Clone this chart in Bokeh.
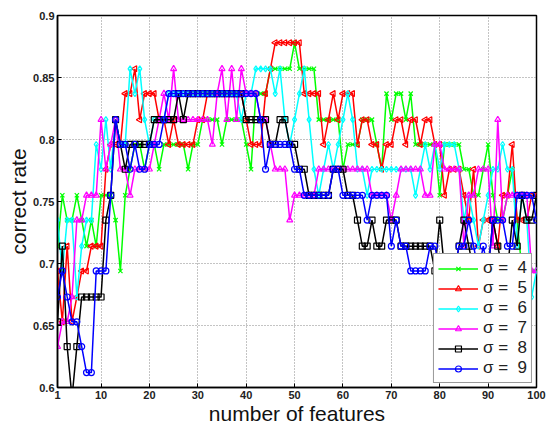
from bokeh.plotting import figure
from bokeh.models import FixedTicker, Legend, LegendItem
from bokeh.embed import file_html
from bokeh.resources import INLINE

features = list(range(1, 101))

sigma4 = [0.714, 0.755, 0.735, 0.735, 0.755, 0.735, 0.714, 0.735, 0.714, 0.755,
          0.755, 0.755, 0.735, 0.694, 0.755, 0.776, 0.796, 0.796, 0.776, 0.796,
          0.796, 0.776, 0.796, 0.796, 0.796, 0.796, 0.796, 0.776, 0.796, 0.796,
          0.816, 0.816, 0.816, 0.816, 0.796, 0.816, 0.816, 0.816, 0.816, 0.796,
          0.776, 0.837, 0.837, 0.837, 0.857, 0.857, 0.857, 0.857, 0.857, 0.878,
          0.857, 0.857, 0.857, 0.857, 0.816, 0.816, 0.816, 0.816, 0.816, 0.776,
          0.796, 0.796, 0.796, 0.816, 0.816, 0.816, 0.796, 0.776, 0.837, 0.816,
          0.837, 0.837, 0.816, 0.837, 0.796, 0.796, 0.796, 0.796, 0.796, 0.755,
          0.796, 0.796, 0.796, 0.796, 0.776, 0.776, 0.755, 0.755, 0.776, 0.796,
          0.755, 0.735, 0.735, 0.755, 0.776, 0.735, 0.694, 0.694, 0.694, 0.694]

sigma5 = [0.694, 0.653, 0.714, 0.653, 0.673, 0.694, 0.694, 0.714, 0.714, 0.714,
          0.776, 0.796, 0.796, 0.796, 0.837, 0.837, 0.857, 0.816, 0.837, 0.837,
          0.837, 0.816, 0.816, 0.796, 0.816, 0.796, 0.796, 0.796, 0.796, 0.816,
          0.816, 0.837, 0.837, 0.837, 0.837, 0.837, 0.837, 0.837, 0.837, 0.816,
          0.796, 0.796, 0.796, 0.837, 0.857, 0.878, 0.878, 0.878, 0.878, 0.878,
          0.878, 0.837, 0.837, 0.837, 0.837, 0.796, 0.816, 0.837, 0.816, 0.837,
          0.837, 0.837, 0.796, 0.816, 0.816, 0.796, 0.796, 0.776, 0.796, 0.796,
          0.816, 0.816, 0.796, 0.816, 0.816, 0.796, 0.816, 0.816, 0.796, 0.796,
          0.755, 0.776, 0.776, 0.776, 0.755, 0.735, 0.776, 0.714, 0.735, 0.735,
          0.735, 0.714, 0.755, 0.755, 0.796, 0.735, 0.735, 0.735, 0.755, 0.755]

sigma6 = [0.735, 0.694, 0.735, 0.735, 0.673, 0.714, 0.735, 0.735, 0.796, 0.776,
          0.816, 0.776, 0.816, 0.796, 0.796, 0.857, 0.837, 0.857, 0.816, 0.796,
          0.816, 0.816, 0.816, 0.837, 0.837, 0.837, 0.837, 0.837, 0.837, 0.837,
          0.837, 0.837, 0.837, 0.837, 0.837, 0.837, 0.837, 0.837, 0.816, 0.837,
          0.837, 0.857, 0.857, 0.857, 0.857, 0.837, 0.857, 0.816, 0.796, 0.816,
          0.837, 0.857, 0.816, 0.776, 0.755, 0.776, 0.796, 0.776, 0.796, 0.816,
          0.837, 0.816, 0.776, 0.776, 0.755, 0.776, 0.776, 0.776, 0.776, 0.776,
          0.776, 0.776, 0.776, 0.776, 0.755, 0.776, 0.796, 0.776, 0.796, 0.776,
          0.796, 0.796, 0.796, 0.776, 0.735, 0.755, 0.735, 0.714, 0.735, 0.755,
          0.776, 0.776, 0.796, 0.776, 0.776, 0.714, 0.755, 0.735, 0.673, 0.694]

sigma7 = [0.633, 0.653, 0.653, 0.673, 0.735, 0.735, 0.755, 0.755, 0.755, 0.816,
          0.776, 0.796, 0.816, 0.776, 0.776, 0.755, 0.776, 0.776, 0.776, 0.776,
          0.796, 0.816, 0.837, 0.816, 0.857, 0.816, 0.816, 0.816, 0.816, 0.816,
          0.816, 0.816, 0.796, 0.837, 0.857, 0.816, 0.857, 0.816, 0.857, 0.837,
          0.837, 0.837, 0.816, 0.816, 0.796, 0.776, 0.776, 0.776, 0.735, 0.755,
          0.755, 0.755, 0.755, 0.755, 0.776, 0.776, 0.776, 0.776, 0.776, 0.776,
          0.776, 0.776, 0.776, 0.776, 0.776, 0.755, 0.755, 0.755, 0.755, 0.735,
          0.755, 0.776, 0.776, 0.776, 0.776, 0.776, 0.755, 0.755, 0.796, 0.796,
          0.776, 0.776, 0.776, 0.776, 0.714, 0.755, 0.755, 0.776, 0.776, 0.776,
          0.714, 0.816, 0.735, 0.755, 0.755, 0.755, 0.755, 0.755, 0.694, 0.694]

sigma8 = [0.653, 0.714, 0.633, 0.592, 0.633, 0.673, 0.673, 0.673, 0.673, 0.673,
          0.735, 0.755, 0.816, 0.796, 0.776, 0.796, 0.796, 0.796, 0.796, 0.796,
          0.816, 0.816, 0.816, 0.816, 0.816, 0.837, 0.816, 0.837, 0.837, 0.837,
          0.837, 0.837, 0.837, 0.837, 0.837, 0.837, 0.837, 0.837, 0.837, 0.816,
          0.816, 0.816, 0.816, 0.816, 0.796, 0.796, 0.816, 0.816, 0.796, 0.796,
          0.776, 0.776, 0.755, 0.755, 0.755, 0.755, 0.755, 0.776, 0.776, 0.776,
          0.755, 0.755, 0.735, 0.714, 0.714, 0.735, 0.714, 0.714, 0.735, 0.735,
          0.735, 0.714, 0.714, 0.714, 0.714, 0.714, 0.714, 0.714, 0.694, 0.735,
          0.694, 0.694, 0.694, 0.714, 0.735, 0.714, 0.694, 0.694, 0.694, 0.694,
          0.735, 0.714, 0.694, 0.694, 0.735, 0.714, 0.755, 0.735, 0.735, 0.755]

sigma9 = [0.673, 0.694, 0.673, 0.653, 0.653, 0.633, 0.612, 0.612, 0.694, 0.694,
          0.694, 0.755, 0.816, 0.796, 0.796, 0.776, 0.796, 0.776, 0.776, 0.796,
          0.796, 0.796, 0.816, 0.837, 0.837, 0.837, 0.837, 0.837, 0.837, 0.837,
          0.837, 0.837, 0.837, 0.837, 0.837, 0.837, 0.837, 0.837, 0.837, 0.837,
          0.837, 0.837, 0.816, 0.776, 0.796, 0.796, 0.796, 0.796, 0.796, 0.776,
          0.776, 0.755, 0.755, 0.755, 0.755, 0.755, 0.755, 0.776, 0.776, 0.755,
          0.755, 0.755, 0.755, 0.755, 0.735, 0.755, 0.755, 0.755, 0.755, 0.714,
          0.735, 0.714, 0.714, 0.694, 0.694, 0.694, 0.694, 0.714, 0.714, 0.694,
          0.694, 0.694, 0.694, 0.714, 0.714, 0.735, 0.714, 0.694, 0.714, 0.694,
          0.735, 0.735, 0.735, 0.714, 0.714, 0.755, 0.755, 0.755, 0.755, 0.735]

x_ticks = [1, 10, 20, 30, 40, 50, 60, 70, 80, 90, 100]
y_ticks = [0.6, 0.65, 0.7, 0.75, 0.8, 0.85, 0.9]

series = [
    ("\u03c3 =  4", sigma4, "#00ff00", "x", 0.0),
    ("\u03c3 =  5", sigma5, "#ff0000", "triangle", 1.5708),
    ("\u03c3 =  6", sigma6, "#00ffff", "diamond", 0.0),
    ("\u03c3 =  7", sigma7, "#ff00ff", "triangle", 0.0),
    ("\u03c3 =  8", sigma8, "#000000", "square", 0.0),
    ("\u03c3 =  9", sigma9, "#0000ff", "circle", 0.0),
]

p = figure(frame_width=479, frame_height=372, x_range=(1, 100), y_range=(0.6, 0.9),
           output_backend="svg", toolbar_location=None,
           min_border_left=57, min_border_right=10, min_border_top=15, min_border_bottom=2)

items = []
for label, ys, color, marker, angle in series:
    r1 = p.line(features, ys, line_color=color, line_width=1.5)
    r2 = p.scatter(features, ys, marker=marker, size=6, line_color=color,
                   fill_color=None, line_width=1.2, angle=angle)
    items.append(LegendItem(label=label, renderers=[r1, r2]))

legend = Legend(items=items, location="bottom_right")
legend.label_text_font = "Liberation Sans"
legend.label_text_font_size = "17px"
legend.label_text_color = "#222222"
legend.border_line_color = "#333333"
legend.border_line_width = 1
legend.background_fill_alpha = 1.0
legend.glyph_width = 40
legend.spacing = 0
legend.label_height = 15
legend.glyph_height = 15
legend.padding = 4
legend.margin = 4
p.add_layout(legend)

p.xaxis.ticker = FixedTicker(ticks=x_ticks)
p.yaxis.ticker = FixedTicker(ticks=y_ticks)
p.yaxis.major_label_overrides = {0.6: "0.6", 0.65: "0.65", 0.7: "0.7", 0.75: "0.75",
                                 0.8: "0.8", 0.85: "0.85", 0.9: "0.9"}
for ax in (p.xaxis, p.yaxis):
    ax.major_label_text_font = "Liberation Sans"
    ax.major_label_text_font_style = "bold"
    ax.major_label_text_font_size = "11px"
    ax.major_label_text_color = "#222222"
    ax.axis_label_text_font = "Liberation Sans"
    ax.axis_label_text_font_style = "normal"
    ax.axis_label_text_font_size = "21px"
    ax.axis_label_text_color = "#111111"
    ax.major_tick_in = 4
    ax.major_tick_out = 0
    ax.minor_tick_in = 0
    ax.minor_tick_out = 0
    ax.axis_line_color = "black"
    ax.axis_line_width = 1.5
    ax.major_label_standoff = 3
    ax.axis_label_standoff = 0

p.xaxis.axis_label = "number of features"
p.yaxis.axis_label = "correct rate"

p.grid.grid_line_color = "#888888"
p.grid.grid_line_dash = "1 2"
p.grid.grid_line_width = 1
p.outline_line_color = "black"
p.outline_line_width = 1.5
p.outline_line_alpha = 1.0

open("out.html", "w").write(file_html(p, INLINE))
